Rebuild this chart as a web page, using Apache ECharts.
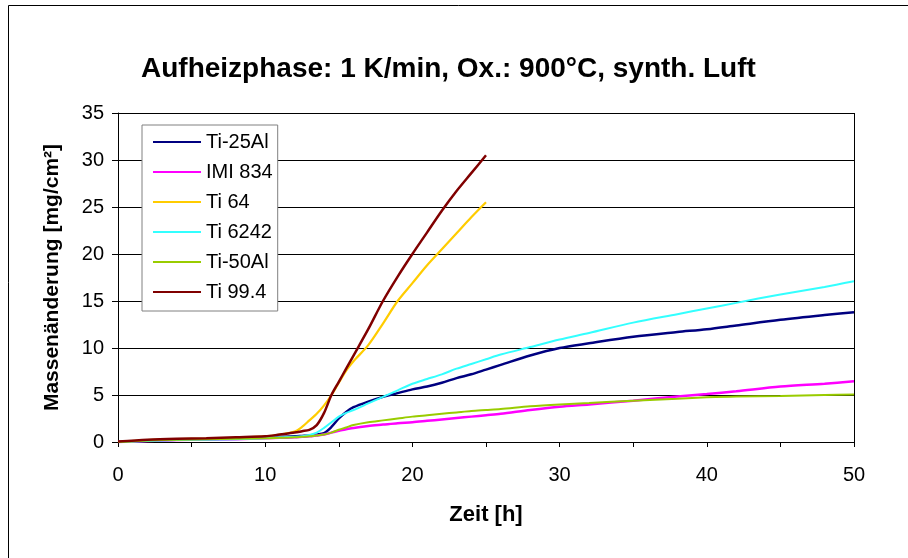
<!DOCTYPE html>
<html><head><meta charset="utf-8">
<script src="https://cdn.jsdelivr.net/npm/echarts@6/dist/echarts.min.js"></script>
<style>html,body{margin:0;padding:0;background:#fff}#c{width:908px;height:558px}</style>
</head><body><div id="c"></div>
<script>
const times = [0, 2, 4, 6, 8, 10, 11, 12, 12.5, 13, 13.5, 14, 14.5, 15, 15.5, 16, 17, 18, 19, 20, 21, 22, 23, 24, 25, 26, 28, 30, 32, 35, 38, 40, 42, 45, 48, 50];
const ti25Al = [0, 0.15, 0.25, 0.3, 0.4, 0.5, 0.55, 0.6, 0.65, 0.7, 0.8, 0.95, 1.6, 2.5, 3.2, 3.7, 4.3, 4.8, 5.2, 5.6, 5.9, 6.3, 6.8, 7.2, 7.7, 8.2, 9.2, 10.0, 10.5, 11.2, 11.7, 12.0, 12.4, 13.0, 13.5, 13.8];
const imi834 = [0, 0.1, 0.2, 0.25, 0.3, 0.4, 0.45, 0.5, 0.55, 0.6, 0.7, 0.8, 1.0, 1.2, 1.35, 1.5, 1.7, 1.85, 2.0, 2.1, 2.25, 2.4, 2.55, 2.7, 2.85, 3.0, 3.4, 3.75, 4.0, 4.4, 4.85, 5.1, 5.4, 5.9, 6.2, 6.45];
const ti64 = [0, 0.2, 0.3, 0.35, 0.45, 0.6, 0.8, 1.1, 1.6, 2.3, 3.0, 3.9, 5.0, 6.3, 7.6, 8.6, 10.3, 12.6, 15.0, 16.9, 18.8, 20.5, 22.2, 23.9, 25.5, null, null, null, null, null, null, null, null, null, null, null];
const ti6242 = [0, 0.1, 0.2, 0.25, 0.3, 0.4, 0.5, 0.55, 0.6, 0.75, 1.0, 1.5, 2.1, 2.7, 3.1, 3.4, 4.1, 4.8, 5.5, 6.2, 6.7, 7.2, 7.8, 8.3, 8.8, 9.3, 10.1, 10.9, 11.6, 12.7, 13.6, 14.2, 14.8, 15.7, 16.5, 17.1];
const ti50Al = [0, 0.15, 0.25, 0.3, 0.35, 0.4, 0.45, 0.5, 0.55, 0.6, 0.7, 0.8, 1.0, 1.3, 1.55, 1.8, 2.1, 2.3, 2.5, 2.7, 2.85, 3.0, 3.15, 3.3, 3.4, 3.5, 3.8, 4.0, 4.15, 4.4, 4.6, 4.75, 4.85, 4.9, 5.0, 5.05];
const ti994 = [0.05, 0.25, 0.35, 0.4, 0.5, 0.6, 0.8, 1.0, 1.15, 1.3, 1.8, 3.1, 5.0, 6.4, 7.8, 9.2, 12.0, 15.0, 17.6, 20.0, 22.3, 24.6, 26.7, 28.6, 30.5, null, null, null, null, null, null, null, null, null, null, null];
const seriesNames = ['Ti-25Al', 'IMI 834', 'Ti 64', 'Ti 6242', 'Ti-50Al', 'Ti 99.4'];
const seriesValues = [ti25Al, imi834, ti64, ti6242, ti50Al, ti994];
const colors = ['#000080', '#FF00FF', '#FFCC00', '#33FFFF', '#99CC00', '#800000'];
const widths = [2.5, 2.5, 2.2, 2, 2, 2.5];

const font = '"Liberation Sans", Arial, sans-serif';
const chart = echarts.init(document.getElementById('c'));
chart.setOption({
  animation: false,
  backgroundColor: '#fff',
  title: {
    text: 'Aufheizphase: 1 K/min, Ox.: 900°C, synth. Luft',
    left: 136, top: 50,
    textStyle: { fontFamily: font, fontSize: 28, fontWeight: 'bold', color: '#000' }
  },
  graphic: [{
    type: 'rect', shape: { x: 8.5, y: 5.5, width: 1000, height: 1000 },
    style: { fill: 'none', stroke: '#000', lineWidth: 1 }, silent: true, z: -1
  }, {
    type: 'line', shape: { x1: 854.5, y1: 113, x2: 854.5, y2: 442 },
    style: { stroke: '#000', lineWidth: 1 }, silent: true
  }],
  legend: {
    orient: 'vertical', left: 142, top: 125,
    padding: [7, 5, 9, 11],
    itemWidth: 48, itemHeight: 2, itemGap: 10,
    icon: 'rect',
    borderColor: '#808080', borderWidth: 1, backgroundColor: '#fff',
    textStyle: { fontFamily: font, fontSize: 20, color: '#000' },
    data: seriesNames.map((n, i) => ({ name: n, icon: 'rect', itemStyle: { color: colors[i] } }))
  },
  grid: { left: 118, right: 54, top: 113, bottom: 116 },
  xAxis: {
    type: 'value', min: 0, max: 50, interval: 5,
    name: 'Zeit [h]', nameLocation: 'middle', nameGap: 62,
    nameTextStyle: { fontFamily: font, fontSize: 22, fontWeight: 'bold', color: '#000' },
    axisLine: { lineStyle: { color: '#000', width: 1 } },
    axisTick: { show: true, inside: false, length: 5, lineStyle: { color: '#000' } },
    axisLabel: { fontFamily: font, fontSize: 20, color: '#000', margin: 23,
      formatter: v => (v % 10 === 0 ? String(v) : '') },
    splitLine: { show: false }
  },
  yAxis: {
    type: 'value', min: 0, max: 35, interval: 5,
    name: 'Massenänderung [mg/cm²]', nameLocation: 'middle', nameGap: 55, nameRotate: 90,
    nameTextStyle: { fontFamily: font, fontSize: 21, fontWeight: 'bold', color: '#000' },
    axisLine: { show: true, lineStyle: { color: '#000', width: 1 } },
    axisTick: { show: true, inside: false, length: 6, lineStyle: { color: '#000' } },
    axisLabel: { fontFamily: font, fontSize: 20, color: '#000', margin: 14 },
    splitLine: { show: true, lineStyle: { color: '#000', width: 1 } }
  },
  series: seriesNames.map((n, i) => ({
    name: n, type: 'line', symbol: 'none', smooth: 0.3,
    data: times.map((t, k) => [t, seriesValues[i][k]]).filter(p => p[1] !== null),
    lineStyle: { color: colors[i], width: widths[i] },
    itemStyle: { color: colors[i] },
    z: 2 + i
  }))
});
</script></body></html>
